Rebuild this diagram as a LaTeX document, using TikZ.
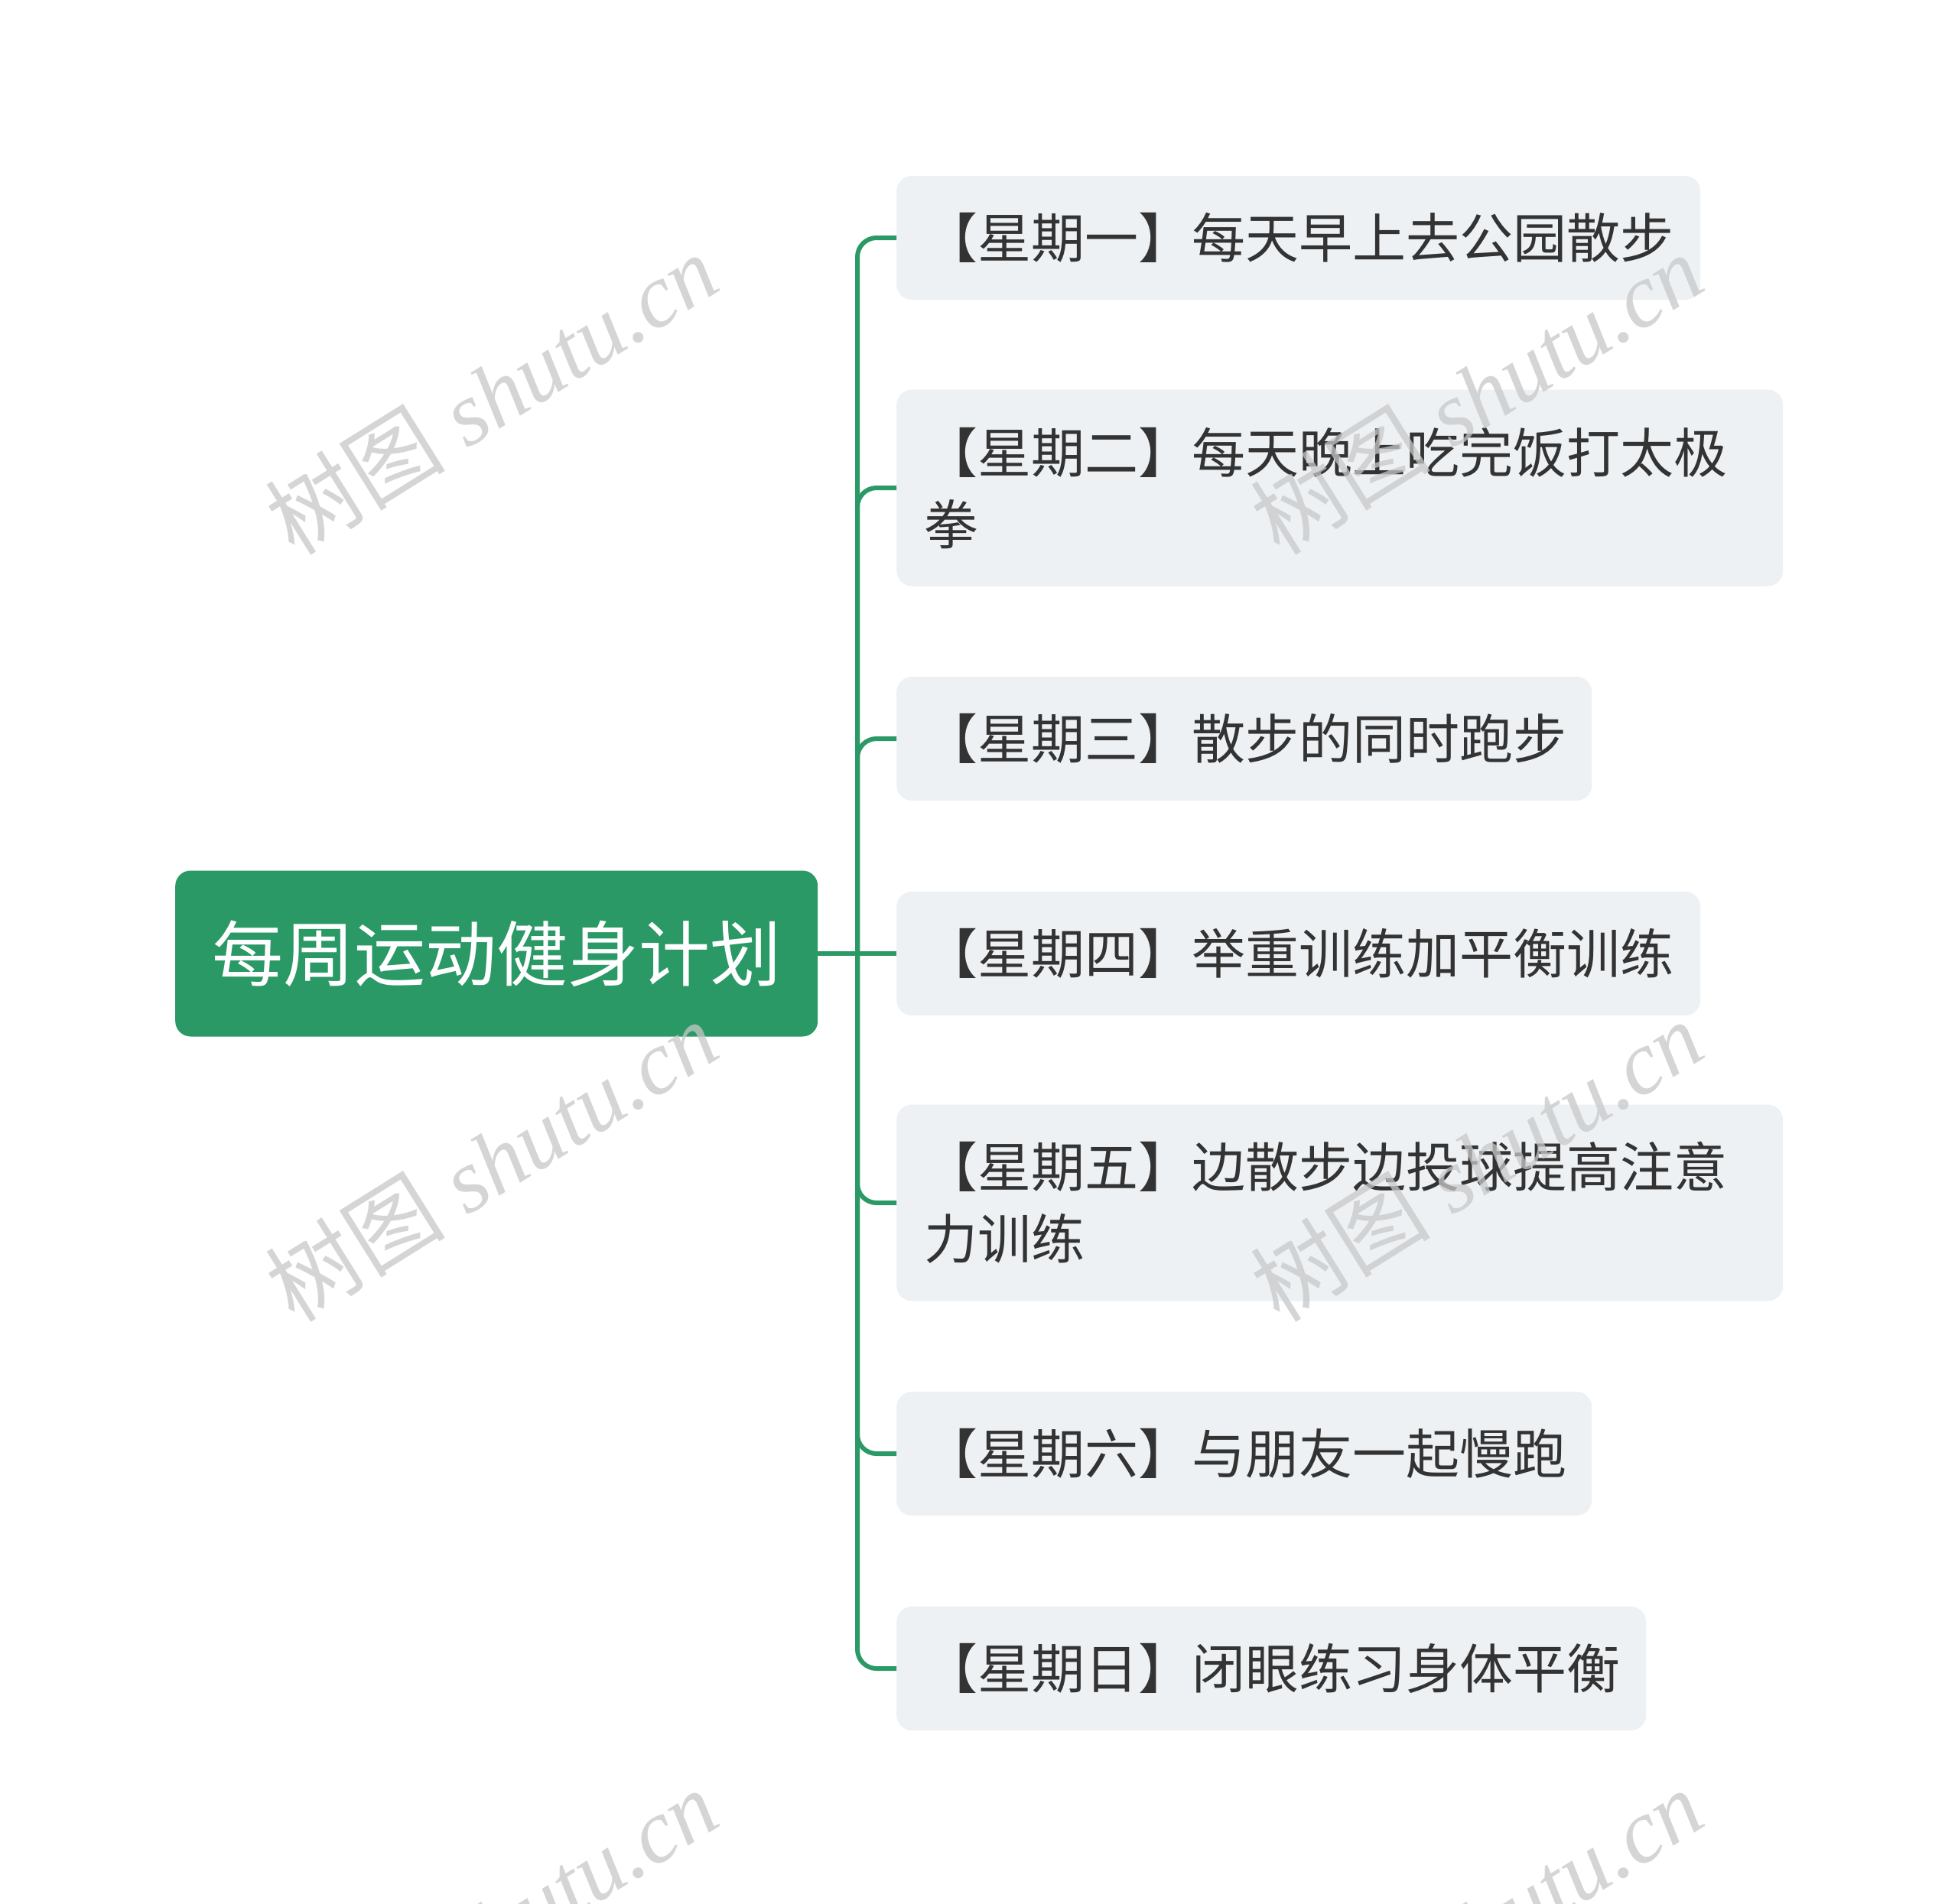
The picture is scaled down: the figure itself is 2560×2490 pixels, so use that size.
\documentclass[tikz,border=0pt]{standalone}
\usepackage{fontspec}
\setmainfont{Liberation Serif}
\newfontfamily\cjk{Noto Sans CJK SC}
\definecolor{rootgreen}{HTML}{2A9966}
\definecolor{childfill}{HTML}{EEF1F4}
\definecolor{childtext}{HTML}{333333}
\definecolor{wmgray}{HTML}{C8C8C8}
\tikzset{
  rootbox/.style={fill=rootgreen, draw=none, rounded corners=20pt, text=white,
    minimum width=840pt, minimum height=217pt, inner sep=0pt,
    font=\cjk\fontsize{93}{110}\selectfont, anchor=west},
  childbox/.style={fill=childfill, draw=none, rounded corners=20pt, text=childtext,
    inner xsep=36pt, inner ysep=0pt, align=left, anchor=west,
    font=\cjk\fontsize{70}{94}\selectfont},
  conn/.style={draw=rootgreen, line width=6pt, rounded corners=25pt},
  wmark/.style={rotate=32, text=wmgray, text opacity=0.75,
    font=\fontsize{118}{124}\selectfont}
}
\begin{document}
\begin{tikzpicture}[x=1pt,y=-1pt]
\useasboundingbox (0,0) rectangle (2560,2490);
\fill[white] (0,0) rectangle (2560,2490);

\node[rootbox] (root) at (229,1247) {每周运动健身计划};

\node[childbox, text width=979pt, minimum height=162pt] (c1) at (1172,311) {【星期一】每天早上去公园散步};
\node[childbox, text width=1087pt, minimum height=257pt] (c2) at (1172,638) {【星期二】每天晚上吃完饭打太极\\拳};
\node[childbox, text width=837pt, minimum height=162pt] (c3) at (1172,966) {【星期三】散步的同时跑步};
\node[childbox, text width=979pt, minimum height=162pt] (c4) at (1172,1247) {【星期四】举重训练加平衡训练};
\node[childbox, text width=1087pt, minimum height=257pt] (c5) at (1172,1573) {【星期五】边散步边投球提高注意\\力训练};
\node[childbox, text width=837pt, minimum height=162pt] (c6) at (1172,1901) {【星期六】与朋友一起慢跑};
\node[childbox, text width=908pt, minimum height=162pt] (c7) at (1172,2182) {【星期日】闭眼练习身体平衡};

\coordinate (tr) at (1121,1247);
\draw[conn] (root.east) -- (c4.west);
\foreach \c in {c1,c2,c3,c5,c6,c7}{
  \draw[conn] (tr) |- (\c.west);
}

\begin{scope}
\clip (0,0) rectangle (2560,2490);
\foreach \cx/\cy in {642/515, 1930/515, 642/1518, 1930/1518, 642/2523, 1930/2523}{
  \node[wmark] at (\cx,\cy) {{\cjk 树图} \textit{shutu.cn}};
}
\end{scope}
\end{tikzpicture}
\end{document}
